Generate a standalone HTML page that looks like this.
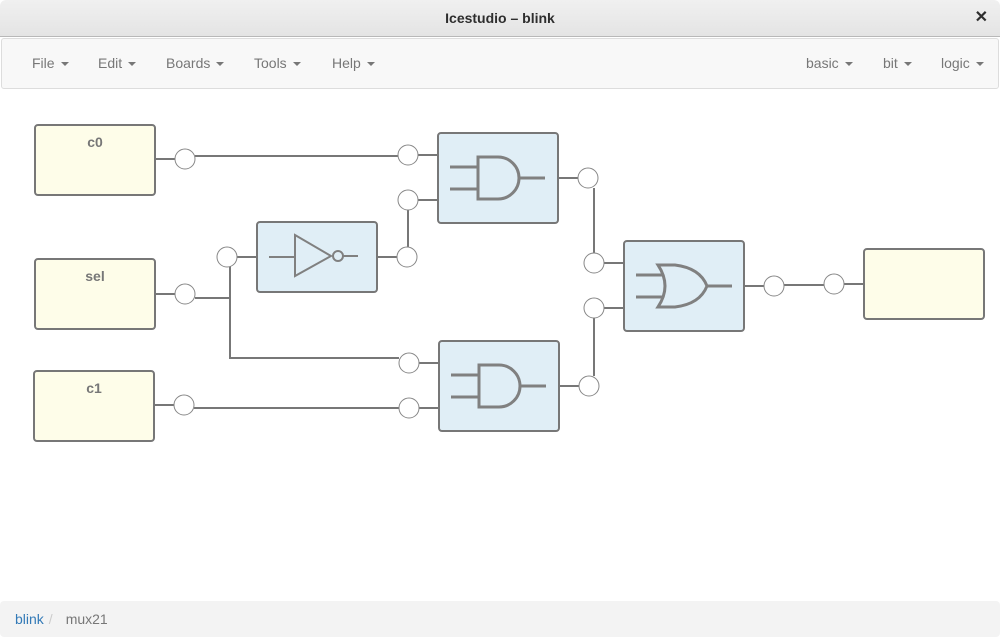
<!DOCTYPE html>
<html><head><style>
body{margin:0;width:1000px;height:637px;overflow:hidden;font-family:"Liberation Sans",sans-serif;background:#fff;position:relative}
#title{position:absolute;left:0;top:0;width:1000px;height:36px;background:linear-gradient(#f0f0f0,#e4e4e4);border-bottom:1px solid #b8b8b8;border-radius:6px 6px 0 0;text-align:center;line-height:36px;font-weight:bold;font-size:14px;color:#2e2e2e}
#close{position:absolute;right:12px;top:0;font-size:16px}
#nav{position:absolute;left:1px;top:38px;width:996px;height:49px;background:#f8f8f8;border:1px solid #ddd;border-radius:3px}
.m{position:absolute;top:0;line-height:49px;font-size:14px;color:#777}
.c{display:inline-block;width:0;height:0;border-left:4px solid transparent;border-right:4px solid transparent;border-top:4px solid #777;vertical-align:middle;margin-left:6px}
#bc{position:absolute;left:0;top:601px;width:1000px;height:36px;background:#f3f3f3;border-radius:4px;font-size:14px;line-height:36px}
svg{position:absolute;left:0;top:0}
</style></head><body>
<div id="title">Icestudio – blink<span id="close">✕</span></div>
<div id="nav">
<span class="m" style="left:30px">File<i class="c"></i></span>
<span class="m" style="left:96px">Edit<i class="c"></i></span>
<span class="m" style="left:164px">Boards<i class="c"></i></span>
<span class="m" style="left:252px">Tools<i class="c"></i></span>
<span class="m" style="left:330px">Help<i class="c"></i></span>
<span class="m" style="left:804px">basic<i class="c"></i></span>
<span class="m" style="left:881px">bit<i class="c"></i></span>
<span class="m" style="left:939px">logic<i class="c"></i></span>
</div>
<svg width="1000" height="600" viewBox="0 0 1000 600">
<g stroke="#777" stroke-width="2" fill="none">
<path d="M155 159H175M195 156H398M418 155H438M418 200H438M408 210V247M377 257H397M237 257H257M155 294H175M195 298H230M230 266V358H399M419 363H439M155 405H174M194 408H399M419 408H439M558 178H578M559 386H579M594 188V253M604 263H624M604 308H624M594 318V376M744 286H764M784 285H824M844 284H864"/>
</g>
<g stroke="#777" stroke-width="2">
<rect x="35" y="125" width="120" height="70" rx="3" fill="#fefde9"/>
<rect x="35" y="259" width="120" height="70" rx="3" fill="#fefde9"/>
<rect x="34" y="371" width="120" height="70" rx="3" fill="#fefde9"/>
<rect x="864" y="249" width="120" height="70" rx="3" fill="#fefde9"/>
<rect x="438" y="133" width="120" height="90" rx="3" fill="#e0eef6"/>
<rect x="439" y="341" width="120" height="90" rx="3" fill="#e0eef6"/>
<rect x="257" y="222" width="120" height="70" rx="3" fill="#e0eef6"/>
<rect x="624" y="241" width="120" height="90" rx="3" fill="#e0eef6"/>
</g>
<g stroke="#808080" stroke-width="3" fill="none">
<path d="M450 167H478M450 189H478M478 157H498A21 21 0 0 1 498 199H478ZM519 178H545"/>
<path d="M451 375H479M451 397H479M479 365H499A21 21 0 0 1 499 407H479ZM520 386H546"/>
<path d="M636 275H664M636 297H664M658 265H675Q700 268 707 286Q700 304 675 307H658Q672 286 658 265ZM707 286H732"/>
</g>
<g stroke="#808080" stroke-width="2" fill="none">
<path d="M269 257H295M295 235V276L331 256ZM343 256H358"/>
<circle cx="338" cy="256" r="5"/>
</g>
<g fill="#fff" stroke="#888" stroke-width="1">
<circle cx="185" cy="159" r="10"/><circle cx="408" cy="155" r="10"/><circle cx="408" cy="200" r="10"/>
<circle cx="227" cy="257" r="10"/><circle cx="407" cy="257" r="10"/><circle cx="185" cy="294" r="10"/>
<circle cx="409" cy="363" r="10"/><circle cx="409" cy="408" r="10"/><circle cx="184" cy="405" r="10"/>
<circle cx="588" cy="178" r="10"/><circle cx="589" cy="386" r="10"/><circle cx="594" cy="263" r="10"/>
<circle cx="594" cy="308" r="10"/><circle cx="774" cy="286" r="10"/><circle cx="834" cy="284" r="10"/>
</g>
<g font-size="14" font-weight="bold" fill="#777" text-anchor="middle">
<text x="95" y="147">c0</text><text x="95" y="281">sel</text><text x="94" y="393">c1</text>
</g>
</svg>
<div id="bc"><span style="margin-left:15px;color:#337ab7">blink</span><span style="color:#ccc;padding:0 8px 0 5px">/</span><span style="color:#777;margin-left:5px">mux21</span></div>
</body></html>
